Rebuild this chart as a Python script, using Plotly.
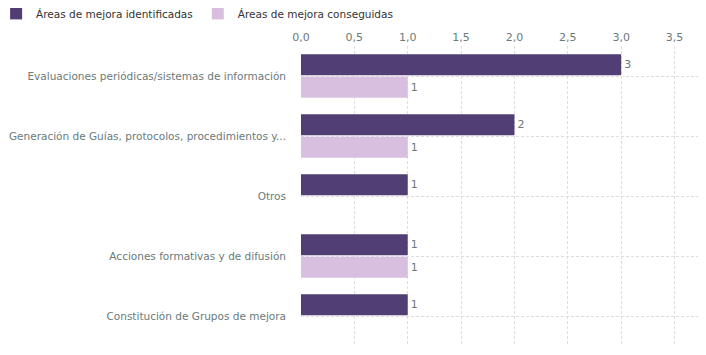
import plotly.graph_objects as go

categorias = [
    "Evaluaciones periódicas/sistemas de información",
    "Generación de Guías, protocolos, procedimientos y...",
    "Otros",
    "Acciones formativas y de difusión",
    "Constitución de Grupos de mejora",
]
identificadas = [3, 2, 1, 1, 1]
conseguidas = [1, 1, None, 1, None]

serie_nombres = ["Áreas de mejora identificadas", "Áreas de mejora conseguidas"]
tick_vals = [0, 0.5, 1, 1.5, 2, 2.5, 3, 3.5]

FONT = "DejaVu Sans, Verdana, sans-serif"
TXT = "#6a7a7a"
GRID = "#dedede"

fig = go.Figure()
fig.add_trace(go.Bar(
    y=categorias, x=identificadas, orientation="h", name=serie_nombres[0],
    marker=dict(color="#503e75", line=dict(width=0)),
    text=identificadas, textposition="outside", cliponaxis=False,
    textfont=dict(color=TXT, size=11, family=FONT),
))
fig.add_trace(go.Bar(
    y=categorias, x=conseguidas, orientation="h", name=serie_nombres[1],
    marker=dict(color="#d8bfe0", line=dict(width=0)),
    text=conseguidas, textposition="outside", cliponaxis=False,
    textfont=dict(color=TXT, size=11, family=FONT),
))

fig.update_layout(
    width=698, height=347,
    margin=dict(l=293, r=8, t=38, b=9, autoexpand=False),
    paper_bgcolor="white", plot_bgcolor="white",
    font=dict(family=FONT, size=10.5, color=TXT),
    barmode="group", bargap=0.25, bargroupgap=0.07,
    separators=",.",
    showlegend=True,
    legend=dict(orientation="h", x=-0.768, xanchor="left", y=1.157, yanchor="top",
                font=dict(size=10.5, color="#333333", family=FONT),
                itemwidth=30, traceorder="normal"),
    xaxis=dict(side="top", range=[0, 3.72], tickvals=tick_vals, tickformat=".1f",
               showgrid=True, gridcolor=GRID, griddash="3px,2px", gridwidth=1,
               zeroline=False, showline=False, ticks="", ticklabelstandoff=2,
               tickfont=dict(size=11, color=TXT)),
    yaxis=dict(autorange="reversed", showgrid=True, gridcolor=GRID,
               griddash="3px,2px", gridwidth=1, zeroline=False, showline=False,
               ticks="", ticklabelstandoff=14, tickfont=dict(size=10.5, color=TXT)),
)

fig.write_html("out.html")
